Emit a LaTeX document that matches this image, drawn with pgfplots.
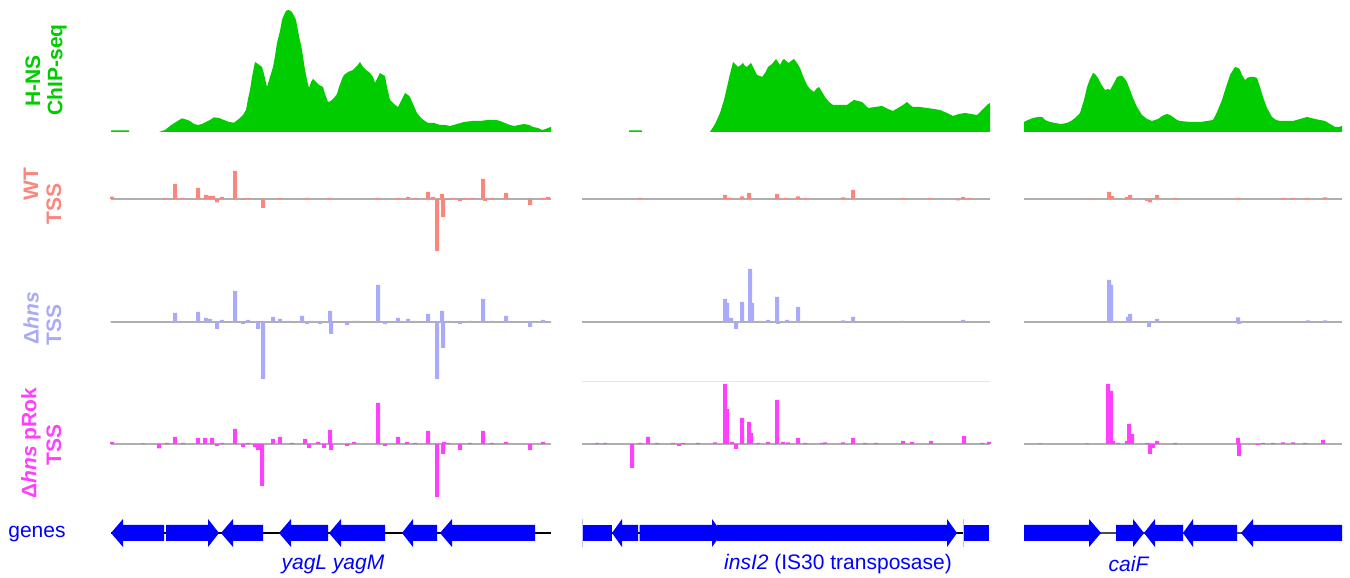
\documentclass[border=0pt]{standalone}
\usepackage{pgfplots}
\pgfplotsset{compat=1.18}
\usepackage{fontspec}
\setmainfont{Liberation Sans}
\definecolor{chipc}{RGB}{0,204,0}
\definecolor{wtc}{RGB}{250,135,125}
\definecolor{dhc}{RGB}{170,170,250}
\definecolor{prc}{RGB}{255,64,255}
\definecolor{genec}{RGB}{0,0,255}
\definecolor{zeroc}{RGB}{175,175,175}
\newcommand{\lbl}{\fontsize{10.5}{12}\selectfont\bfseries}
\newcommand{\txt}{\fontsize{10.5}{12}\selectfont}
\newcommand{\larrow}[3]{\addplot[fill=genec, draw=none] coordinates {(#1,0)(#2,14)(#2,8)(#3,8)(#3,-8)(#2,-8)(#2,-14)};}
\newcommand{\rarrow}[3]{\addplot[fill=genec, draw=none] coordinates {(#1,8)(#2,8)(#2,14)(#3,0)(#2,-14)(#2,-8)(#1,-8)};}
\newcommand{\grect}[2]{\addplot[fill=genec, draw=none] coordinates {(#1,8)(#2,8)(#2,-8)(#1,-8)};}
\pgfplotsset{
  track/.style={hide axis, clip=false, x=0.5pt, y=0.5pt, xmin=0, xmax=1350, anchor=south west},
  tss/.style={ybar, bar width=4, bar shift=0pt, draw=none},
  zl/.style={zeroc, line width=0.7pt},
}
\begin{document}
\begin{tikzpicture}
\path[use as bounding box] (0,0) rectangle (675pt,289pt);

% ---------------- ChIP-seq ----------------
\begin{axis}[track, at={(0pt,219pt)}, ymin=-8, ymax=132]
\addplot[fill=chipc, draw=none] coordinates {(111,0)(111,1.5)(129,1.5)(129,0)} \closedcycle;
\addplot[fill=chipc, draw=none] coordinates {(159,0)(165,2)(170,6)(176,10)(182,13.7)(186,12.5)(190,11)(194,8)(198,7)(202,8)(206,10)(210,12)(214,14.7)(219,14)(224,12)(229,10)(234,9.3)(240,14)(243,17)(246,22)(248,33)(250,42)(252,55)(255,70)(258,68)(262,65)(264,58)(267,45)(270,55)(273,65)(275,76)(277,89)(280,101)(282,112)(284,117)(286,121)(288,122)(291,121)(293,118)(296,112)(299,96)(302,82)(305,62)(307,52)(309,44)(311,50)(313,53)(316,50)(319,47)(321,46)(323,45)(325,38)(328,30)(331,31)(334,34)(337,38)(339,45)(342,53)(344,57)(348,60)(353,62)(357,66)(360,70)(363,65)(366,62)(370,59)(373,55)(375,49)(378,55)(380,59)(383,57)(385,56)(387,45)(390,32)(394,28)(398,25)(402,33)(405,39)(408,37)(410,35)(413,28)(417,19)(422,13)(428,9)(434,9)(440,7)(445,7)(450,6)(457,8)(464,10)(472,11)(480,11)(488,12)(496,12)(500,11)(505,9)(510,7)(514,6)(519,7)(524,8)(529,7)(533,5)(538,4)(542,2)(546,3)(548,4)(551,5)} \closedcycle;
\addplot[fill=chipc, draw=none] coordinates {(629,0)(629,1.5)(642,1.5)(642,0)} \closedcycle;
\addplot[fill=chipc, draw=none] coordinates {(710,0)(715,8)(720,19)(724,32)(727,45)(730,58)(733,70)(735,68)(738,65)(741,67)(743,69)(745,66)(747,65)(749,67)(751,69)(754,63)(757,57)(760,56)(762,55)(765,59)(768,65)(772,68)(776,73)(778,70)(780,67)(782,71)(784,73)(786,71)(789,69)(791,71)(794,73)(797,69)(800,64)(803,56)(807,47)(810,43)(814,40)(816,43)(819,45)(822,40)(825,35)(829,30)(833,27)(840,27)(847,27)(851,30)(854,32)(858,31)(862,30)(865,27)(868,24)(875,25)(882,26)(888,23)(893,21)(898,24)(903,27)(907,30)(910,27)(913,25)(920,25)(927,24)(934,23)(940,22)(947,19)(953,16)(959,18)(965,19)(971,18)(977,17)(982,22)(987,27)(990,29)} \closedcycle;
\addplot[fill=chipc, draw=none] coordinates {(1024,0)(1024,10)(1028,12)(1033,14)(1038,15)(1042,15)(1045,12)(1050,10)(1055,9)(1061,8)(1067,9)(1071,11)(1075,14)(1080,19)(1084,32)(1087,45)(1090,53)(1093,59)(1095,58)(1098,54)(1101,48)(1105,42)(1108,43)(1110,42)(1114,49)(1117,55)(1120,56)(1122,56)(1125,53)(1127,50)(1130,42)(1133,34)(1137,25)(1142,17)(1147,13)(1152,11)(1155,12)(1158,13)(1162,16)(1167,18)(1170,17)(1173,15)(1177,12)(1180,11)(1190,10)(1200,10)(1207,11)(1213,12)(1217,20)(1222,32)(1226,45)(1230,57)(1233,62)(1235,65)(1238,64)(1240,62)(1242,57)(1245,52)(1247,54)(1250,55)(1254,55)(1257,54)(1260,45)(1263,35)(1267,24)(1272,15)(1276,12)(1280,11)(1287,11)(1293,11)(1300,13)(1307,15)(1311,14)(1315,13)(1320,12)(1325,11)(1330,8)(1335,5)(1339,5)(1342,6)} \closedcycle;
\node[rotate=90, text=chipc, font=\lbl] at (axis cs:33,51) {H-NS};
\node[rotate=90, text=chipc, font=\lbl] at (axis cs:57,62) {ChIP-seq};
\end{axis}

% ---------------- WT TSS ----------------
\begin{axis}[track, at={(0pt,158pt)}, ymin=-63, ymax=59]
\addplot[zl] coordinates {(111,0)(551,0)};
\addplot[zl] coordinates {(582,0)(990,0)};
\addplot[zl] coordinates {(1024,0)(1342,0)};
\addplot[tss, fill=wtc] coordinates {(112,2.3)(165,1)(175,15)(182,1)(198,11)(206,4)(210,3)(213,3)(217,-3.3)(222,2)(235,28)(243,-1)(248,1)(263,-9)(280,1)(307,1)(330,1)(378,1)(398,1)(408,2)(415,1)(428,7)(433,2)(437,-52)(442,5)(443,-18)(448,-1)(453,1)(460,-2)(465,1)(472,1)(483,20)(485,-2)(492,1)(506,6)(530,-6)(543,1)(548,2)};
\addplot[tss, fill=wtc] coordinates {(640,1)(725,4)(730,1)(742,2.5)(749,6)(777,5)(786,1)(798,2.5)(805,1)(843,1.5)(853,9)(903,1)(930,1)(958,-1.5)(963,2)(970,1)};
\addplot[tss, fill=wtc] coordinates {(1092,0.5)(1109,7)(1112,3)(1127,2)(1130,4)(1147,-2)(1150,-3.5)(1157,4)(1175,1)(1238,1)(1283,1)(1293,1)(1307,1)(1325,1.5)};
\node[rotate=90, text=wtc, font=\lbl] at (axis cs:31,15) {WT};
\node[rotate=90, text=wtc, font=\lbl] at (axis cs:54,-5) {TSS};
\end{axis}

% ---------------- Delta hns TSS ----------------
\begin{axis}[track, at={(0pt,99pt)}, ymin=-58, ymax=60]
\addplot[zl] coordinates {(111,0)(551,0)};
\addplot[zl] coordinates {(582,0)(990,0)};
\addplot[zl] coordinates {(1024,0)(1342,0)};
\addplot[tss, fill=dhc] coordinates {(112,0.5)(175,9)(182,0.5)(198,10)(206,4)(210,3)(217,-7)(222,2)(235,31)(243,-2)(248,2)(258,-7)(263,-57)(273,5)(280,3)(288,1)(302,6)(307,-2)(312,1)(320,-2)(330,11)(331,-12)(347,-3)(355,1)(358,1)(378,37)(385,-2)(398,4)(408,3)(415,1)(428,8)(437,-57)(442,11)(443,-26)(448,1)(460,-2)(470,1)(483,23)(492,1)(506,6)(530,-5)(543,2)};
\addplot[tss, fill=dhc] coordinates {(642,0.5)(725,23)(727,19)(731,4)(736,-7)(742,20)(750,53)(752,19)(760,1)(768,2)(777,25)(778,-2)(787,2)(792,1)(798,15)(805,1)(822,0.5)(843,1.5)(853,5)(903,1)(930,0.5)(963,2)};
\addplot[tss, fill=dhc] coordinates {(1109,42)(1111,37)(1117,1)(1128,5)(1130,8)(1143,0.5)(1149,-5)(1157,3)(1175,0.5)(1238,4.5)(1239,-2)(1293,0.5)(1308,1.5)(1325,1.5)};
\node[rotate=90, text=dhc, font=\lbl] at (axis cs:31,4) {Δ\textit{hns}};
\node[rotate=90, text=dhc, font=\lbl] at (axis cs:54,-3) {TSS};
\end{axis}

% ---------------- Delta hns pRok TSS ----------------
\begin{axis}[track, at={(0pt,36.5pt)}, ymin=-61, ymax=64]
\addplot[gray!20, line width=0.5pt] coordinates {(582,62)(990,62)};
\addplot[zl] coordinates {(111,0)(551,0)};
\addplot[zl] coordinates {(582,0)(990,0)};
\addplot[zl] coordinates {(1024,0)(1342,0)};
\addplot[tss, fill=prc] coordinates {(112,2)(143,0.5)(159,-4.5)(167,1)(175,7)(183,1)(198,6)(205,6)(212,6)(217,-2)(222,1)(235,15)(243,-3)(248,1)(255,-3)(258,-6)(262,-42)(273,5)(280,7)(292,1)(305,5)(309,-4)(318,2)(324,-4)(330,14)(331,-6)(347,-2)(354,2)(378,41)(385,-2)(398,7)(407,2)(415,1)(428,13)(437,-53)(443,-10)(444,2)(448,1)(460,-6)(470,1)(483,13)(492,1)(506,2)(530,-6)(543,2)};
\addplot[tss, fill=prc] coordinates {(597,1)(605,1)(632,-24)(640,1)(648,7)(657,1)(673,1)(679,-2)(683,1)(698,1)(715,1.5)(725,60)(727,35)(732,2)(736,-5)(742,26)(749,22)(751,11)(758,1)(768,2)(777,44)(783,2)(788,1.5)(798,6)(805,1)(822,1)(825,1.5)(843,1.5)(853,6)(865,1)(876,1)(903,3)(912,2)(931,3)(964,8)(982,1)(989,2)};
\addplot[tss, fill=prc] coordinates {(1040,0.5)(1087,0.5)(1108,60)(1111,53)(1113,3)(1118,1)(1127,3)(1129,20)(1132,10)(1147,1)(1150,-10)(1153,-4)(1157,3)(1175,1)(1238,6)(1239,-12)(1258,-1)(1263,1)(1273,1)(1283,1.5)(1293,1.5)(1305,1)(1323,4)};
\node[rotate=90, text=prc, font=\lbl] at (axis cs:31,1) {Δ\textit{hns} pRok};
\node[rotate=90, text=prc, font=\lbl] at (axis cs:54,-1) {TSS};
\end{axis}

% ---------------- genes ----------------
\begin{axis}[track, at={(0pt,0pt)}, ymin=-45, ymax=28]
\addplot[black, line width=0.6pt] coordinates {(111,0)(551,0)};
\addplot[black, line width=0.6pt] coordinates {(583,0)(989,0)};
\addplot[black!70, line width=0.6pt] coordinates {(1024,0)(1342,0)};
\addplot[genec!25, line width=0.5pt] coordinates {(582.5,-14)(582.5,14)};
\addplot[genec!25, line width=0.5pt] coordinates {(963.5,-14)(963.5,14)};
\larrow{111}{123}{164}
\rarrow{166}{208}{219}
\larrow{221}{233}{263}
\larrow{279}{291}{328}
\larrow{329}{341}{385}
\larrow{402}{413}{437}
\larrow{440}{452}{535}
\grect{583}{612}
\larrow{612}{622}{638}
\rarrow{639.5}{712}{722}
\rarrow{717}{947}{957}
\grect{964}{989}
\rarrow{1024}{1089}{1101}
\rarrow{1116}{1133}{1144}
\larrow{1144}{1155}{1183}
\larrow{1183}{1193}{1237}
\larrow{1241}{1253}{1342}
\node[text=genec, font=\txt] at (axis cs:37,-1) {genes};
\node[text=genec, font=\txt] at (axis cs:333,-31) {\textit{yagL yagM}};
\node[text=genec, font=\txt] at (axis cs:838,-31) {\textit{insI2} (IS30 transposase)};
\node[text=genec, font=\txt] at (axis cs:1129,-31) {\textit{caiF}};
\end{axis}
\end{tikzpicture}
\end{document}
